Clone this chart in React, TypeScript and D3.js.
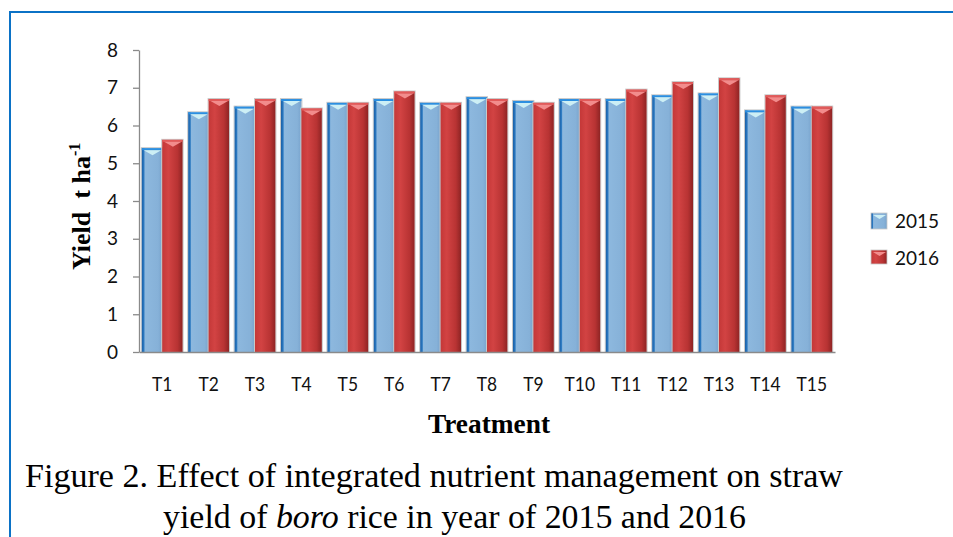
import * as d3 from "d3";
import { useEffect, useRef } from "react";

const categories = ["T1", "T2", "T3", "T4", "T5", "T6", "T7", "T8", "T9", "T10", "T11", "T12", "T13", "T14", "T15"];
const years = ["2015", "2016"];
const yield2015 = [5.4, 6.35, 6.5, 6.7, 6.6, 6.7, 6.6, 6.75, 6.65, 6.7, 6.7, 6.8, 6.85, 6.4, 6.5];
const yield2016 = [5.62, 6.7, 6.7, 6.45, 6.6, 6.9, 6.6, 6.7, 6.6, 6.7, 6.95, 7.15, 7.25, 6.8, 6.5];
const yTicks = [0, 1, 2, 3, 4, 5, 6, 7, 8];

const W = 953;
const H = 537;
const plot = { left: 139, right: 835, top: 50, bottom: 352 };

export default function App() {
  const svgRef = useRef<SVGSVGElement>(null);

  useEffect(() => {
    const svg = d3.select(svgRef.current);
    svg.selectAll("*").remove();

    // gradients
    const defs = svg.append("defs");
    const gb = defs.append("linearGradient").attr("id", "gBlue").attr("x1", 0).attr("x2", 1).attr("y1", 0).attr("y2", 0);
    gb.append("stop").attr("offset", "0%").attr("stop-color", "#1A5FA6");
    gb.append("stop").attr("offset", "10%").attr("stop-color", "#2A78C0");
    gb.append("stop").attr("offset", "16%").attr("stop-color", "#8DB8DE");
    gb.append("stop").attr("offset", "80%").attr("stop-color", "#86B1D8");
    gb.append("stop").attr("offset", "100%").attr("stop-color", "#78A3CC");
    const gr = defs.append("linearGradient").attr("id", "gRed").attr("x1", 0).attr("x2", 1).attr("y1", 0).attr("y2", 0);
    gr.append("stop").attr("offset", "0%").attr("stop-color", "#C43838");
    gr.append("stop").attr("offset", "30%").attr("stop-color", "#D24343");
    gr.append("stop").attr("offset", "75%").attr("stop-color", "#B83333");
    gr.append("stop").attr("offset", "100%").attr("stop-color", "#8E2424");

    // frame
    svg.append("rect")
      .attr("x", 10).attr("y", 12).attr("width", 1000).attr("height", 600)
      .attr("fill", "none").attr("stroke", "#0B72C6").attr("stroke-width", 2);

    const x0 = d3.scaleBand().domain(categories).range([plot.left, plot.right]).paddingInner(0.12).paddingOuter(0.06);
    const x1 = d3.scaleBand().domain(years).range([0, x0.bandwidth()]);
    const y = d3.scaleLinear().domain([0, 8]).range([plot.bottom, plot.top]);

    // y axis
    const gy = svg.append("g").attr("transform", `translate(${plot.left},0)`)
      .call(d3.axisLeft(y).tickValues(yTicks).tickFormat(d3.format("d")).tickSize(6).tickSizeOuter(0).tickPadding(15));
    gy.select(".domain").attr("stroke", "#8a8a8a").attr("stroke-width", 1.3);
    gy.selectAll(".tick line").attr("stroke", "#8a8a8a").attr("stroke-width", 1.3);
    gy.selectAll(".tick text").attr("font-family", "Lato, sans-serif").attr("font-size", 19).attr("fill", "#111");

    // bars
    const rows = categories.map((c, i) => ({ cat: c, vals: [yield2015[i], yield2016[i]] }));
    const groups = svg.append("g").selectAll("g").data(rows).join("g")
      .attr("transform", (d) => `translate(${x0(d.cat)},0)`);

    groups.each(function (d) {
      const g = d3.select(this);
      d.vals.forEach((v, k) => {
        const bx = x1(years[k])!;
        const bw = x1.bandwidth();
        const by = y(v);
        const bh = y(0) - by;
        g.append("rect").attr("x", bx - 0.5).attr("y", by - 0.5).attr("width", bw + 1).attr("height", bh + 0.5)
          .attr("fill", "none").attr("stroke", "#c8c8c8").attr("stroke-width", 1);
        g.append("rect").attr("x", bx).attr("y", by).attr("width", bw).attr("height", bh)
          .attr("fill", k === 0 ? "url(#gBlue)" : "url(#gRed)");
        // top edge + bevel
        g.append("rect").attr("x", bx).attr("y", by).attr("width", bw).attr("height", 2)
          .attr("fill", k === 0 ? "#2C8FE0" : "#E25A5A");
        g.append("polygon")
          .attr("points", `${bx + 2},${by + 2} ${bx + bw - 1},${by + 2} ${bx + bw / 2 + 0.5},${by + 7}`)
          .attr("fill", k === 0 ? "#CDEFF5" : "#F28C8C");
      });
    });

    // x axis
    const gx = svg.append("g").attr("transform", `translate(0,${plot.bottom})`)
      .call(d3.axisBottom(x0).tickSize(0).tickSizeOuter(0).tickPadding(25));
    gx.select(".domain").attr("stroke", "#8a8a8a").attr("stroke-width", 1.3);
    gx.selectAll(".tick text").attr("font-family", "Lato, sans-serif").attr("font-size", 20).attr("fill", "#111")
      .attr("transform", "scale(0.87,1)");

    // y title
    const yt = svg.append("text")
      .attr("transform", "translate(90,270) rotate(-90)")
      .attr("font-family", "'Liberation Serif', 'Times New Roman', serif")
      .attr("font-weight", "bold").attr("font-size", 26).attr("fill", "#000")
      .attr("xml:space", "preserve");
    yt.append("tspan").text("Yield  t ha");
    yt.append("tspan").attr("font-size", 16).attr("dy", -10).text("-1");

    // x title
    svg.append("text").attr("x", 428).attr("y", 433)
      .attr("textLength", 122).attr("lengthAdjust", "spacingAndGlyphs")
      .attr("font-family", "'Liberation Serif', 'Times New Roman', serif")
      .attr("font-weight", "bold").attr("font-size", 27).text("Treatment");

    // legend
    const lg = svg.append("g");
    years.forEach((yr, k) => {
      const ly = k === 0 ? 213 : 250;
      lg.append("rect").attr("x", 871).attr("y", ly).attr("width", 16).attr("height", k === 0 ? 16 : 14)
        .attr("fill", k === 0 ? "url(#gBlue)" : "url(#gRed)").attr("stroke", "#c8c8c8").attr("stroke-width", 0.8);
      lg.append("polygon")
        .attr("points", `${873},${ly + 2} ${886},${ly + 2} ${879.5},${ly + 6}`)
        .attr("fill", k === 0 ? "#CDEFF5" : "#F28C8C");
      lg.append("text").attr("x", 895).attr("y", ly + 8).attr("dy", "0.35em")
        .attr("font-family", "Lato, sans-serif").attr("font-size", 19).attr("fill", "#111").text(yr);
    });

    // caption
    const serif = "'Liberation Serif', 'Times New Roman', serif";
    svg.append("text").attr("x", 25).attr("y", 487)
      .attr("textLength", 818).attr("lengthAdjust", "spacingAndGlyphs")
      .attr("font-family", serif).attr("font-size", 33).attr("fill", "#000")
      .text("Figure 2. Effect of integrated nutrient management on straw");
    const c2 = svg.append("text").attr("x", 163).attr("y", 528)
      .attr("textLength", 583).attr("lengthAdjust", "spacingAndGlyphs")
      .attr("font-family", serif).attr("font-size", 33).attr("fill", "#000")
      .attr("xml:space", "preserve");
    c2.append("tspan").text("yield of ");
    c2.append("tspan").attr("font-style", "italic").text("boro");
    c2.append("tspan").text(" rice in year of 2015 and 2016");
  }, []);

  return (
    <svg
      ref={svgRef}
      width={W}
      height={H}
      style={{ position: "absolute", left: 0, top: 0, display: "block", background: "#fff" }}
    />
  );
}
